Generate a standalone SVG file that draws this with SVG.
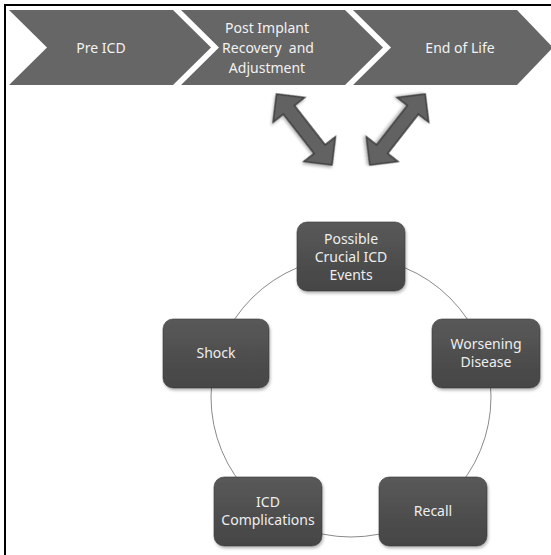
<svg xmlns="http://www.w3.org/2000/svg" width="551" height="555" viewBox="0 0 551 555">
<style>
.chev{fill:#666666;}
.ct{font-family:"Noto Sans","Open Sans",sans-serif;font-size:14px;fill:#f2f2f2;text-anchor:middle;}
.box{fill:url(#bg);stroke:#3a3a3a;stroke-width:0.6;filter:url(#sh);}
.bt{font-family:"Noto Sans","Open Sans",sans-serif;font-size:14px;fill:#eeeeee;text-anchor:middle;}
.arr{fill:#626262;stroke:#3c3c3c;stroke-width:1.5;stroke-linejoin:miter;filter:url(#sh);}
</style>
<defs>
<linearGradient id="bg" x1="0" y1="0" x2="0" y2="1">
<stop offset="0" stop-color="#595959"/>
<stop offset="1" stop-color="#454545"/>
</linearGradient>
<filter id="sh" x="-20%" y="-20%" width="140%" height="140%">
<feDropShadow dx="1" dy="2" stdDeviation="1.5" flood-color="#000" flood-opacity="0.3"/>
</filter>
</defs>
<rect width="551" height="555" fill="#ffffff"/>
<path d="M5,555 V5 H551" fill="none" stroke="#000" stroke-width="2"/>

<g id="chevron-pre-icd">
<polygon class="chev" points="9,10 173,10 211,47.5 173,85 9,85 47,47.5"/>
<text class="ct" x="101" y="52.5">Pre ICD</text>
</g>
<g id="chevron-post-implant">
<polygon class="chev" points="181,10 345,10 383,47.5 345,85 181,85 219,47.5"/>
<text class="ct" x="267" y="32.5">Post Implant</text>
<text class="ct" x="268" y="52.5" xml:space="preserve">Recovery  and</text>
<text class="ct" x="267" y="72.5">Adjustment</text>
</g>
<g id="chevron-end-of-life">
<polygon class="chev" points="353,10 517,10 553,47.5 517,85 353,85 391,47.5"/>
<text class="ct" x="460" y="52.5">End of Life</text>
</g>

<g id="arrows">
<polygon class="arr" transform="translate(304.25,129.5) rotate(52)" points="-45,0 -25,-20 -25,-7 25,-7 25,-20 45,0 25,20 25,7 -25,7 -25,20"/>
<polygon class="arr" transform="translate(397.5,129.5) rotate(128)" points="-45,0 -25,-20 -25,-7 25,-7 25,-20 45,0 25,20 25,7 -25,7 -25,20"/>
</g>

<g id="connectors">
<circle cx="351" cy="397" r="140" fill="none" stroke="#8a8a8a" stroke-width="1"/>
</g>

<g id="node-possible">
<rect class="box" x="297" y="222" width="108" height="69" rx="10"/>
<text class="bt" x="351" y="244">Possible</text>
<text class="bt" x="351" y="262">Crucial ICD</text>
<text class="bt" x="351" y="280">Events</text>
</g>
<g id="node-shock">
<rect class="box" x="163" y="319" width="106" height="69" rx="10"/>
<text class="bt" x="216" y="358">Shock</text>
</g>
<g id="node-worsening">
<rect class="box" x="432" y="319" width="108" height="69" rx="10"/>
<text class="bt" x="486" y="349">Worsening</text>
<text class="bt" x="486" y="367">Disease</text>
</g>
<g id="node-icd-complications">
<rect class="box" x="214" y="477" width="108" height="69" rx="10"/>
<text class="bt" x="268" y="507">ICD</text>
<text class="bt" x="268" y="525">Complications</text>
</g>
<g id="node-recall">
<rect class="box" x="379" y="477" width="108" height="69" rx="10"/>
<text class="bt" x="433" y="516">Recall</text>
</g>
</svg>
